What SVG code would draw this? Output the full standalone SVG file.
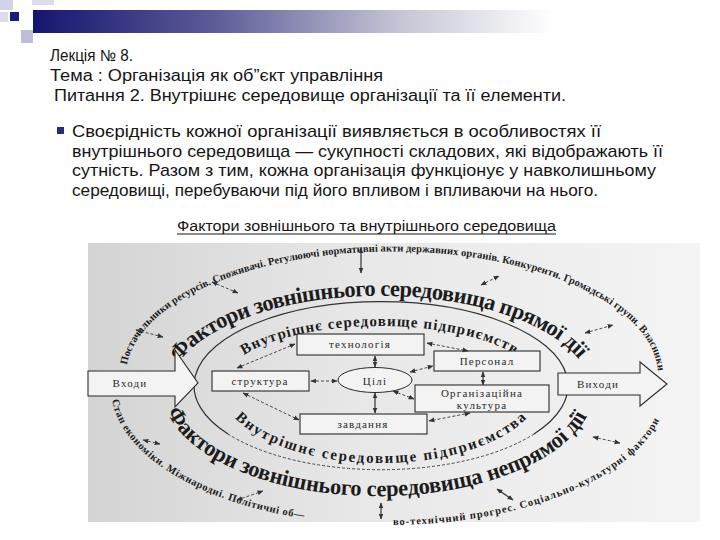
<svg xmlns="http://www.w3.org/2000/svg" width="720" height="540" viewBox="0 0 720 540">
<style>
.hdr{font-family:"Liberation Sans",Arial,sans-serif;font-size:16px;fill:#151515}
.par{font-size:17px}
.cap{font-size:14px}
.box{fill:#f3f3f3;stroke:#2a2a2a;stroke-width:1.1}
.bt{font-family:"Liberation Serif","Times New Roman",serif;font-size:11px;letter-spacing:1.2px;fill:#2a2a2a;text-anchor:middle}
.ring{font-family:"Liberation Serif","Times New Roman",serif;font-weight:bold;fill:#1c1c1c}
.big{font-size:22.5px}
.mid{font-size:15px}
.sm{font-size:10.5px}
.dash{stroke:#333;stroke-width:0.9;stroke-dasharray:3 2;fill:none}
.sol{stroke:#333;stroke-width:1.2;fill:none}
</style>
<defs>
<linearGradient id="bar" x1="0" y1="0" x2="1" y2="0">
<stop offset="0" stop-color="#151570"/>
<stop offset="0.35" stop-color="#5c5c98"/>
<stop offset="0.7" stop-color="#c4c4d4"/>
<stop offset="1" stop-color="#ffffff"/>
</linearGradient>
<linearGradient id="scan" x1="0" y1="0" x2="1" y2="0">
<stop offset="0" stop-color="#d4d4d4"/>
<stop offset="0.45" stop-color="#e8e8e8"/>
<stop offset="1" stop-color="#f4f4f4"/>
</linearGradient>
<marker id="ah" viewBox="0 0 10 10" refX="9" refY="5" markerWidth="6" markerHeight="6" markerUnits="userSpaceOnUse" orient="auto-start-reverse">
<path d="M0,1 L10,5 L0,9 z" fill="#333"/>
</marker>
<path id="e5" d="M127,365 A266,124 0 0 1 658,378"/>
<path id="e1" d="M179,362 A212,97 0 0 1 581,362"/>
<path id="e3" d="M244,355 A158,59 0 0 1 516,355"/>
<path id="e4" d="M235,418 A161,78 0 0 0 527,418"/>
<path id="e2" d="M167,412 A216,107 0 0 0 589,412"/>
<path id="e6a" d="M112,400 A278,137 0 0 0 307,519"/>
<path id="e6b" d="M393,525 A278,137 0 0 0 665,405"/>
</defs>

<g id="decor">
<rect x="0" y="0" width="13" height="10" fill="#d3d3ea"/>
<rect x="32" y="0" width="22" height="5" fill="#dcdcee"/>
<rect x="0" y="12" width="8" height="10" fill="#dcdcee"/>
<rect x="10" y="12" width="9" height="9" fill="#1a1a80"/>
<rect x="21" y="30" width="12" height="13" fill="#bdbddb"/>
<rect x="33" y="10" width="520" height="23" fill="url(#bar)"/>
</g>

<g id="header">
<text class="hdr" x="50" y="61" textLength="83" lengthAdjust="spacingAndGlyphs">Лекція № 8.</text>
<text class="hdr" x="50" y="81" textLength="333" lengthAdjust="spacingAndGlyphs">Тема : Організація як об”єкт управління</text>
<text class="hdr" x="54" y="101" textLength="512" lengthAdjust="spacingAndGlyphs">Питання 2. Внутрішнє середовище організації та її елементи.</text>
<rect x="57" y="127" width="7" height="7" fill="#2b2b78"/>
<text class="hdr par" x="72" y="137" textLength="529" lengthAdjust="spacingAndGlyphs">Своєрідність кожної організації виявляється в особливостях її</text>
<text class="hdr par" x="72" y="157" textLength="591" lengthAdjust="spacingAndGlyphs">внутрішнього середовища — сукупності складових, які відображають її</text>
<text class="hdr par" x="72" y="176" textLength="584" lengthAdjust="spacingAndGlyphs">сутність. Разом з тим, кожна організація функціонує у навколишньому</text>
<text class="hdr par" x="72" y="196" textLength="526" lengthAdjust="spacingAndGlyphs">середовищі, перебуваючи під його впливом і впливаючи на нього.</text>
<text class="hdr cap" x="177" y="231" textLength="379" lengthAdjust="spacingAndGlyphs">Фактори зовнішнього та внутрішнього середовища</text>
<line x1="177" y1="234" x2="556" y2="234" stroke="#151515" stroke-width="1"/>
</g>

<rect id="scan-bg" x="88" y="243" width="612" height="279" fill="url(#scan)"/>

<g id="rings">
<path d="M228,434 A187,84 0 1 1 534,434" class="sol" stroke-width="0.9"/>
<path d="M228,434 A187,84 0 0 0 534,434" class="dash"/>
<text class="ring sm"><textPath href="#e5" textLength="618" lengthAdjust="spacing">Постачальники ресурсів. Споживачі. Регулюючі нормативні акти державних органів. Конкуренти. Громадські групи. Власники</textPath></text>
<text class="ring big"><textPath href="#e1" textLength="432" lengthAdjust="spacing">Фактори зовнішнього середовища прямої дії</textPath></text>
<text class="ring mid"><textPath href="#e3" textLength="288" lengthAdjust="spacing">Внутрішнє середовище підприємства</textPath></text>
<text class="ring mid"><textPath href="#e4" textLength="312" lengthAdjust="spacing">Внутрішнє середовище підприємства</textPath></text>
<text class="ring big"><textPath href="#e2" textLength="470" lengthAdjust="spacing">Фактори зовнішнього середовища непрямої дії</textPath></text>
<text class="ring sm"><textPath href="#e6a" textLength="238" lengthAdjust="spacing">Стан економіки. Міжнародні. Політичні об—</textPath></text>
<text class="ring sm"><textPath href="#e6b" textLength="298" lengthAdjust="spacing">во-технічний прогрес. Соціально-культурні фактори</textPath></text>
</g>

<g id="inputs">
<polygon points="88,371 175,371 175,350 198,383 175,407 175,396 88,396" class="box"/>
<text class="bt" x="130" y="387">Входи</text>
</g>
<g id="outputs">
<polygon points="558,373 640,373 640,362 667,384 640,406 640,395 558,395" class="box"/>
<text class="bt" x="598" y="388">Виходи</text>
</g>
<g id="technology">
<rect x="297" y="334" width="127" height="21" class="box"/>
<text class="bt" x="360" y="348">технологія</text>
</g>
<g id="personnel">
<rect x="434" y="351" width="106" height="20" class="box"/>
<text class="bt" x="487" y="365">Персонал</text>
</g>
<g id="structure">
<rect x="212" y="371" width="97" height="20" class="box"/>
<text class="bt" x="260" y="385">структура</text>
</g>
<g id="goals">
<ellipse cx="375" cy="380" rx="37" ry="12.5" fill="#f3f3f3" stroke="#2a2a2a" stroke-width="1"/>
<text class="bt" x="375" y="385" font-size="13">Цілі</text>
</g>
<g id="culture">
<rect x="415" y="385" width="134" height="27" class="box"/>
<text class="bt" x="482" y="397">Організаційна</text>
<text class="bt" x="482" y="409">культура</text>
</g>
<g id="tasks">
<rect x="300" y="414" width="127" height="20" class="box"/>
<text class="bt" x="363" y="428">завдання</text>
</g>

<g id="connectors">
<line x1="237" y1="368" x2="295" y2="344" class="dash" marker-start="url(#ah)" marker-end="url(#ah)"/>
<line x1="427" y1="343" x2="468" y2="351" class="dash" marker-start="url(#ah)" marker-end="url(#ah)"/>
<line x1="375" y1="356" x2="375" y2="367" class="sol" marker-start="url(#ah)" marker-end="url(#ah)"/>
<line x1="410" y1="372" x2="433" y2="366" class="dash" marker-start="url(#ah)" marker-end="url(#ah)"/>
<line x1="311" y1="381" x2="337" y2="381" class="dash" marker-start="url(#ah)" marker-end="url(#ah)"/>
<line x1="483" y1="372" x2="483" y2="385" class="sol" marker-start="url(#ah)" marker-end="url(#ah)"/>
<line x1="393" y1="391" x2="414" y2="399" class="dash" marker-start="url(#ah)" marker-end="url(#ah)"/>
<line x1="375" y1="393" x2="375" y2="413" class="sol" marker-start="url(#ah)" marker-end="url(#ah)"/>
<line x1="243" y1="393" x2="299" y2="420" class="dash" marker-start="url(#ah)" marker-end="url(#ah)"/>
<line x1="470" y1="413" x2="429" y2="421" class="dash" marker-start="url(#ah)" marker-end="url(#ah)"/>
<line x1="361" y1="248" x2="361" y2="273" class="sol" marker-start="url(#ah)" marker-end="url(#ah)"/>
<line x1="212" y1="282" x2="238" y2="293" class="dash" marker-start="url(#ah)" marker-end="url(#ah)"/>
<line x1="136" y1="330" x2="163" y2="337" class="dash" marker-start="url(#ah)" marker-end="url(#ah)"/>
<line x1="481" y1="285" x2="499" y2="276" class="dash" marker-start="url(#ah)" marker-end="url(#ah)"/>
<line x1="585" y1="333" x2="613" y2="325" class="dash" marker-start="url(#ah)" marker-end="url(#ah)"/>
<line x1="381" y1="503" x2="381" y2="519" class="sol" marker-start="url(#ah)" marker-end="url(#ah)"/>
<line x1="497" y1="489" x2="513" y2="500" class="sol" marker-start="url(#ah)" marker-end="url(#ah)"/>
<line x1="593" y1="437" x2="620" y2="443" class="dash" marker-start="url(#ah)" marker-end="url(#ah)"/>
<line x1="143" y1="440" x2="160" y2="444" class="dash" marker-start="url(#ah)" marker-end="url(#ah)"/>
<line x1="237" y1="500" x2="263" y2="491" class="dash" marker-start="url(#ah)" marker-end="url(#ah)"/>
</g>
</svg>
